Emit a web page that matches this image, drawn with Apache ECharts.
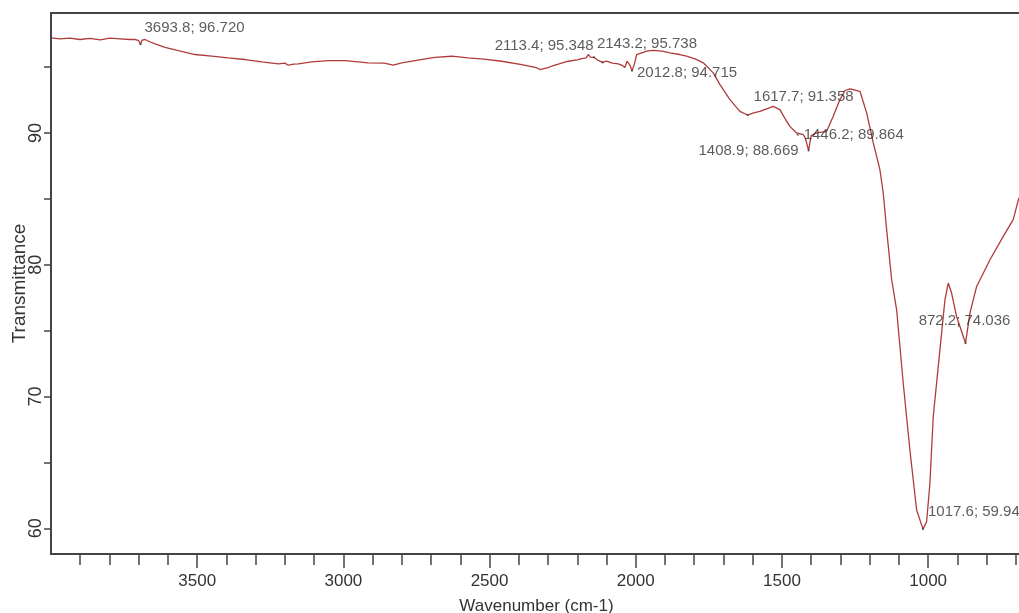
<!DOCTYPE html>
<html>
<head>
<meta charset="utf-8">
<style>
html,body{margin:0;padding:0;background:#fff;}
#chart{width:1019px;height:613px;}
</style>
<script src="https://cdn.jsdelivr.net/npm/echarts@6/dist/echarts.min.js"></script>
</head>
<body>
<div id="chart"></div>
<script>
// Spectrum (wavenumber cm-1, transmittance %)
const wavenumbers = [
  3997.6, 3969.2, 3935, 3900.8, 3866.6, 3832.4, 3798.2, 3764, 3729.8, 3712.7,
  3700, 3693.8, 3688, 3678.5, 3660, 3644.3, 3610, 3564.7, 3507.5, 3450.4,
  3393.6, 3336.5, 3279.4, 3222.6, 3200, 3188.4, 3170, 3154.2, 3108.4, 3051.6,
  2994.5, 2914.8, 2860, 2829.3, 2800.6, 2750, 2686.7, 2629.6, 2572.8, 2520,
  2458.6, 2390.2, 2340, 2327.6, 2300, 2287.6, 2230.8, 2200, 2185, 2170,
  2162.4, 2155, 2143.2, 2128.3, 2113.4, 2100, 2080, 2059.9, 2045, 2037,
  2030, 2025.6, 2020, 2012.8, 2005, 1997, 1962.7, 1940, 1910, 1883,
  1850, 1826, 1795, 1769, 1735, 1712, 1678, 1644, 1617.7, 1600,
  1575.6, 1550, 1530, 1507, 1490, 1473, 1450, 1446.2, 1427, 1420,
  1408.9, 1400, 1381.6, 1347, 1324.6, 1301.6, 1285, 1267.4, 1250, 1233.2,
  1210.3, 1187.8, 1165, 1153.6, 1142, 1124.8, 1107.8, 1085.2, 1062.3, 1039.4,
  1017.6, 1005.3, 993.9, 982.6, 965.5, 954, 942.6, 931.3, 919.8, 902.7,
  872.2, 857.1, 834.1, 788.6, 743.1, 709, 689.5
];
const transmittance = [
  97.22, 97.13, 97.19, 97.09, 97.17, 97.06, 97.19, 97.14, 97.09, 97.10,
  97.00, 96.72, 97.05, 97.09, 96.90, 96.76, 96.50, 96.25, 95.95, 95.82,
  95.69, 95.57, 95.39, 95.24, 95.30, 95.14, 95.22, 95.24, 95.39, 95.49,
  95.49, 95.32, 95.30, 95.14, 95.32, 95.50, 95.74, 95.82, 95.69, 95.60,
  95.44, 95.19, 94.95, 94.81, 94.95, 95.06, 95.44, 95.55, 95.64, 95.70,
  95.95, 95.75, 95.738, 95.50, 95.348, 95.45, 95.30, 95.24, 95.10, 94.96,
  95.45, 95.57, 95.15, 94.715, 95.20, 95.95, 96.20, 96.27, 96.20, 96.07,
  95.95, 95.82, 95.60, 95.32, 94.56, 93.67, 92.53, 91.64, 91.358, 91.50,
  91.64, 91.85, 92.02, 91.77, 91.10, 90.50, 90.00, 89.864, 89.87, 89.60,
  88.669, 89.80, 90.00, 90.12, 91.26, 92.53, 93.20, 93.34, 93.25, 93.16,
  91.52, 89.26, 87.21, 85.44, 82.66, 78.86, 76.58, 71.01, 65.92, 61.39,
  59.94, 60.50, 63.42, 68.48, 72.27, 74.81, 77.34, 78.61, 77.85, 76.07,
  74.036, 76.33, 78.35, 80.38, 82.15, 83.42, 85.09
];

// Labelled peaks
const peakWavenumbers = [3693.8, 2143.2, 2113.4, 2012.8, 1617.7, 1446.2, 1408.9, 1017.6, 872.2];
const peakTransmittance = [96.720, 95.738, 95.348, 94.715, 91.358, 89.864, 88.669, 59.94, 74.036];
const peakLabels = ['3693.8; 96.720', '2143.2; 95.738', '2113.4; 95.348', '2012.8; 94.715',
  '1617.7; 91.358', '1446.2; 89.864', '1408.9; 88.669', '1017.6; 59.94', '872.2; 74.036'];

// Axis ticks
const xMajorTicks = [3500, 3000, 2500, 2000, 1500, 1000];
const xMinorTicks = [3900, 3800, 3700, 3600, 3400, 3300, 3200, 3100, 2900, 2800, 2700, 2600,
  2400, 2300, 2200, 2100, 1900, 1800, 1700, 1600, 1400, 1300, 1200, 1100, 900, 800, 700];
const yTicks = [60, 65, 70, 75, 80, 85, 90, 95];
const yTickLabels = [60, 70, 80, 90];

// label placement (layout only)
const peakLabelLayout = [
  {align: 'left', offset: [4, -17]},
  {align: 'left', offset: [3, -13]},
  {align: 'right', offset: [-9, -17]},
  {align: 'left', offset: [5, 2]},
  {align: 'left', offset: [6, -18]},
  {align: 'left', offset: [6, 0]},
  {align: 'right', offset: [-10, 0]},
  {align: 'left', offset: [5, -17]},
  {align: 'center', offset: [-1, -22]}
];

const FONT = "'Liberation Sans', Arial, sans-serif";
const plain = v => String(v);
const lineData = wavenumbers.map((w, i) => [w, transmittance[i]]);
const peakData = peakWavenumbers.map((w, i) => ({
  value: [w, peakTransmittance[i]],
  label: {
    show: true,
    formatter: peakLabels[i],
    position: [1, 1],
    align: peakLabelLayout[i].align,
    verticalAlign: 'middle',
    offset: peakLabelLayout[i].offset
  }
}));

const chart = echarts.init(document.getElementById('chart'));
chart.setOption({
  animation: false,
  backgroundColor: '#fff',
  grid: {
    left: 51, right: -3, top: 13, bottom: 59,
    containLabel: false, outerBoundsMode: 'none',
    show: true, borderColor: '#444', borderWidth: 2, backgroundColor: 'transparent'
  },
  xAxis: [{
    type: 'value', inverse: true, min: 679, max: 4000,
    name: 'Wavenumber (cm-1)', nameLocation: 'middle', nameGap: 44,
    nameTextStyle: {fontFamily: FONT, fontSize: 17, color: '#333'},
    axisLine: {show: true, lineStyle: {color: '#444', width: 2}},
    axisTick: {show: true, customValues: xMajorTicks, length: 14, lineStyle: {color: '#444', width: 1.5}},
    axisLabel: {show: true, customValues: xMajorTicks, formatter: plain, margin: 19, fontFamily: FONT, fontSize: 17, color: '#333'},
    splitLine: {show: false}
  }, {
    type: 'value', inverse: true, min: 679, max: 4000, position: 'bottom',
    axisLine: {show: false},
    axisTick: {show: true, customValues: xMinorTicks, length: 11, lineStyle: {color: '#444', width: 1.5}},
    axisLabel: {show: false},
    splitLine: {show: false}
  }],
  yAxis: {
    type: 'value', min: 58.05, max: 99.1,
    name: 'Transmittance', nameLocation: 'middle', nameGap: 22, nameMoveOverlap: false,
    nameTextStyle: {fontFamily: FONT, fontSize: 19, color: '#333'},
    axisLine: {show: true, lineStyle: {color: '#444', width: 2}},
    axisTick: {show: true, customValues: yTicks, length: 7, lineStyle: {color: '#444', width: 1.5}},
    axisLabel: {show: true, customValues: yTickLabels, formatter: plain, rotate: 90, margin: 6, fontFamily: FONT, fontSize: 18, color: '#333'},
    splitLine: {show: false}
  },
  series: [{
    type: 'line',
    data: lineData,
    showSymbol: false,
    symbol: 'none',
    smooth: false,
    lineStyle: {color: '#b03a3a', width: 1.3},
    z: 2
  }, {
    type: 'scatter',
    data: peakData,
    symbolSize: 2,
    itemStyle: {color: '#333'},
    label: {fontFamily: FONT, fontSize: 15, color: '#333'},
    z: 3
  }]
});
</script>
</body>
</html>
